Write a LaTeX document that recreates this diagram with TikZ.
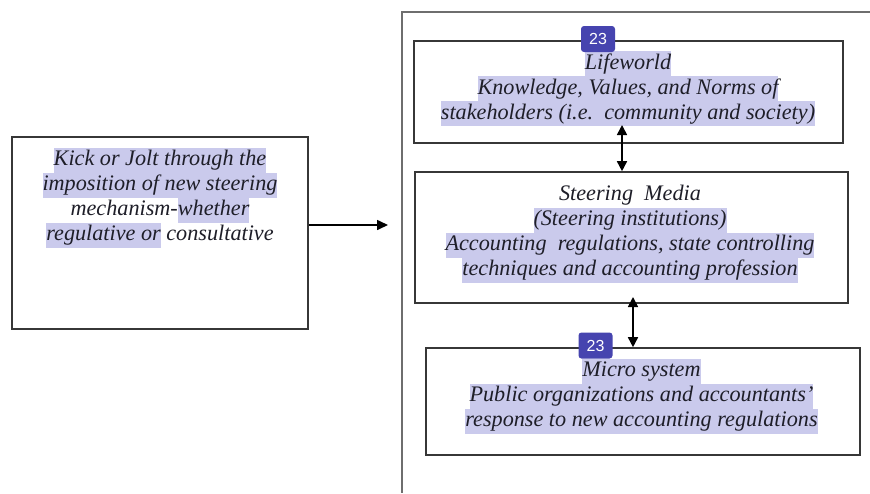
\documentclass[tikz,border=0pt]{standalone}
\usepackage{fontspec}
\setmainfont{Liberation Serif}
\newfontfamily\badgefont{Liberation Sans}
\usetikzlibrary{arrows.meta}

\definecolor{hlc}{RGB}{202,202,236}
\definecolor{ink}{RGB}{30,30,40}
\definecolor{boxline}{RGB}{55,55,55}
\definecolor{frameline}{RGB}{110,110,110}
\definecolor{badgeblue}{RGB}{70,68,175}

% highlighted run of text, one line tall
\newcommand{\hlt}[1]{{\setlength{\fboxsep}{0pt}\colorbox{hlc}{\rule[-7pt]{0pt}{25pt}#1}}}
% plain run of text with the same line height
\newcommand{\plain}[1]{{\rule[-7pt]{0pt}{25pt}#1}}

\begin{document}
\begin{tikzpicture}[x=1pt,y=-1pt,
  panel/.style={draw=boxline, line width=1.6pt, rectangle, inner sep=0pt},
  label/.style={inner sep=0pt, align=center, text=ink,
    font=\fontsize{22.2}{25}\selectfont\itshape},
  arr/.style={draw=black, line width=1.6pt, -{Triangle[length=11pt,width=10pt]}},
  arrboth/.style={draw=black, line width=1.6pt,
    {Triangle[length=10pt,width=10pt]}-{Triangle[length=10pt,width=10pt]}},
  badge/.style={fill=badgeblue, rounded corners=3pt, text=white,
    minimum width=34pt, minimum height=26pt, inner sep=0pt,
    font=\badgefont\fontsize{16}{16}\selectfont}]

\useasboundingbox (0,0) rectangle (870,493);
\fill[white] (0,0) rectangle (870,493);

% outer frame around the three levels
\draw[frameline, line width=1.5pt] (870,12) -- (402,12) -- (402,493);

% boxes
\node[panel, minimum width=296pt, minimum height=192pt] (kick) at (160,233) {};
\node[panel, minimum width=429pt, minimum height=102pt] (life) at (628.5,92) {};
\node[panel, minimum width=433pt, minimum height=131pt] (steer) at (631.5,237.5) {};
\node[panel, minimum width=434pt, minimum height=107pt] (micro) at (643,401.5) {};

% texts
\node[label] (kickText) at (160,197.5) {%
  \hlt{Kick or Jolt through the}\\
  \hlt{imposition of new steering}\\
  \plain{mechanism-}\hlt{whether}\\
  \hlt{regulative or}\plain{ consultative}};

\node[label] (lifeText) at (628,88.5) {%
  \hlt{Lifeworld}\\
  \hlt{Knowledge, Values, and Norms of}\\
  \hlt{stakeholders (i.e.\ \ community and society)}};

\node[label] (steerText) at (630,232.5) {%
  \plain{Steering\ \ Media}\\
  \hlt{(Steering institutions)}\\
  \hlt{Accounting\ \ regulations, state controlling}\\
  \hlt{techniques and accounting profession}};

\node[label] (microText) at (641.5,396) {%
  \hlt{Micro system}\\
  \hlt{Public organizations and accountants'}\\
  \hlt{response to new accounting regulations}};

% connectors
\coordinate (frameIn) at (388,225);
\draw[arr] (kick.east |- frameIn) -- (frameIn);

\coordinate (lifeLow) at (622,125);
\draw[arrboth] (lifeLow) -- (lifeLow |- steer.north);

\coordinate (steerLow) at (633,297);
\draw[arrboth] (steerLow) -- (steerLow |- micro.north);

% page-number badges
\node[badge] (badgeTop) at (598,39) {23};
\node[badge] (badgeLow) at (595.5,345.5) {23};

\end{tikzpicture}
\end{document}
